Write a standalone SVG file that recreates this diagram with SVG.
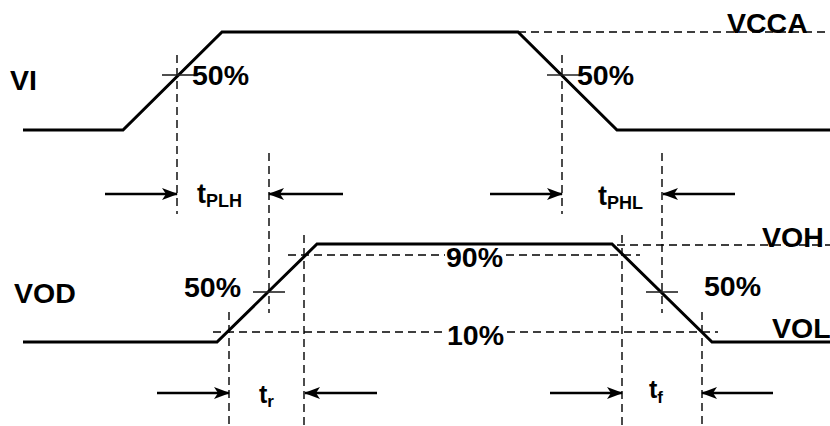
<svg xmlns="http://www.w3.org/2000/svg" width="830" height="426" viewBox="0 0 830 426">
<defs>
<style>
.wave{fill:none;stroke:#000;stroke-width:3;stroke-linejoin:miter}
.dash{fill:none;stroke:#000;stroke-width:1.4;stroke-dasharray:8 5}
.tick{fill:none;stroke:#222;stroke-width:1.6}
.arr{fill:none;stroke:#000;stroke-width:2.5}
text{font-family:"Liberation Sans",Arial,sans-serif;font-weight:bold;fill:#000}
.lbl{font-size:28.5px}
.t{font-size:27px}
.sub{font-size:18px}
.t2{font-size:25px}
.sub2{font-size:17px}
</style>
<marker id="ah" viewBox="0 0 16 12" refX="15" refY="6" markerWidth="16" markerHeight="12" markerUnits="userSpaceOnUse" orient="auto">
<path d="M0,0 L16,6 L0,12 L4,6 Z" fill="#000"/>
</marker>
</defs>
<rect width="830" height="426" fill="#fff"/>
<g id="waveforms">
<polyline id="vi-wave" class="wave" points="23,130 123,130 222,32 518,32 617,130 830,130"/>
<polyline id="vod-wave" class="wave" points="23,342 217,342 317,244 612,244 712,342 830,342"/>
</g>
<g id="connectors">
<line class="dash" x1="518" y1="32" x2="830" y2="32"/>
<line class="dash" x1="617" y1="245" x2="830" y2="245"/>
<line class="dash" x1="288" y1="255" x2="445" y2="255"/>
<line class="dash" x1="506" y1="255" x2="640" y2="255"/>
<line class="dash" x1="213" y1="332" x2="445" y2="332"/>
<line class="dash" x1="507" y1="332" x2="718" y2="332"/>
<line class="dash" x1="177" y1="55" x2="177" y2="214"/>
<line class="dash" x1="562" y1="55" x2="562" y2="214"/>
<line class="dash" x1="269" y1="153" x2="269" y2="313"/>
<line class="dash" x1="662" y1="153" x2="662" y2="313"/>
<line class="dash" x1="229" y1="312" x2="229" y2="426"/>
<line class="dash" x1="304" y1="235" x2="304" y2="426"/>
<line class="dash" x1="622" y1="235" x2="622" y2="426"/>
<line class="dash" x1="702" y1="312" x2="702" y2="426"/>
<line class="tick" x1="162" y1="75" x2="194" y2="75"/>
<line class="tick" x1="547" y1="75" x2="580" y2="75"/>
<line class="tick" x1="253" y1="292" x2="285" y2="292"/>
<line class="tick" x1="646" y1="292" x2="678" y2="292"/>
<line class="arr" x1="105" y1="194" x2="177" y2="194" marker-end="url(#ah)"/>
<line class="arr" x1="343" y1="194" x2="269" y2="194" marker-end="url(#ah)"/>
<line class="arr" x1="490" y1="194" x2="562" y2="194" marker-end="url(#ah)"/>
<line class="arr" x1="735" y1="194" x2="663" y2="194" marker-end="url(#ah)"/>
<line class="arr" x1="157" y1="393" x2="229" y2="393" marker-end="url(#ah)"/>
<line class="arr" x1="377" y1="393" x2="305" y2="393" marker-end="url(#ah)"/>
<line class="arr" x1="550" y1="393" x2="622" y2="393" marker-end="url(#ah)"/>
<line class="arr" x1="773" y1="393" x2="702" y2="393" marker-end="url(#ah)"/>
</g>
<g id="labels">
<text class="lbl" x="10" y="90">VI</text>
<text class="lbl" x="192" y="85">50%</text>
<text class="lbl" x="577" y="85">50%</text>
<text class="lbl" x="727" y="33">VCCA</text>
<text x="197" y="203"><tspan class="t">t</tspan><tspan class="sub" dy="4">PLH</tspan></text>
<text x="598" y="205"><tspan class="t">t</tspan><tspan class="sub" dy="4">PHL</tspan></text>
<text class="lbl" x="762" y="247">VOH</text>
<text class="lbl" x="14" y="303">VOD</text>
<text class="lbl" x="184" y="297">50%</text>
<text class="lbl" x="704" y="296">50%</text>
<text class="lbl" x="446" y="267">90%</text>
<text class="lbl" x="447" y="345">10%</text>
<text class="lbl" x="772" y="338">VOL</text>
<text x="259" y="403"><tspan class="t2">t</tspan><tspan class="sub2" dy="4">r</tspan></text>
<text x="649" y="398"><tspan class="t2">t</tspan><tspan class="sub2" dy="5">f</tspan></text>
</g>
</svg>
